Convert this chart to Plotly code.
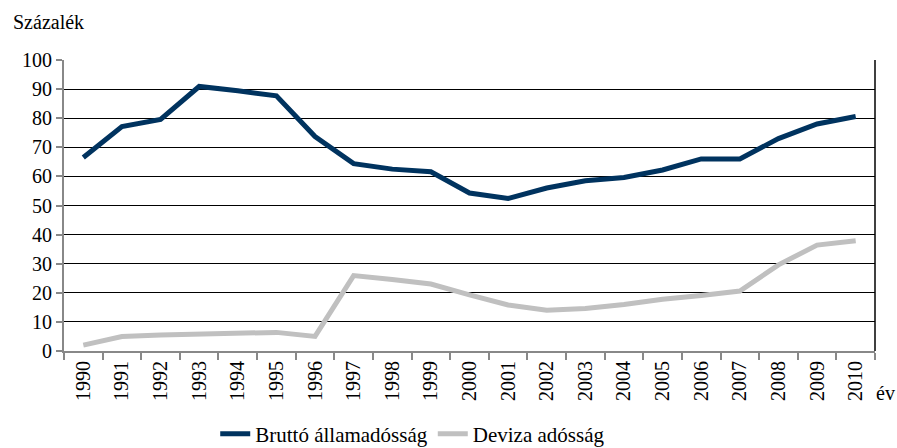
import plotly.graph_objects as go

years = [str(y) for y in range(1990, 2011)]
brutto = [66.5, 77.1, 79.6, 90.9, 89.4, 87.7, 73.7, 64.4, 62.5, 61.6, 54.3, 52.4,
          56.0, 58.5, 59.6, 62.2, 66.0, 66.0, 73.0, 78.0, 80.6]
deviza = [2.0, 5.0, 5.5, 5.9, 6.4, 6.4, 5.0, 25.9, 24.6, 23.0, 19.3, 15.8,
          14.0, 14.6, 16.0, 17.8, 19.1, 20.6, 29.6, 36.4, 37.9]
yticks = list(range(0, 101, 10))

FONT = "Liberation Serif"
F20 = dict(family=FONT, size=20, color="black")
F21 = dict(family=FONT, size=21, color="black")

fig = go.Figure()
fig.add_trace(go.Scatter(x=years, y=brutto, mode="lines", name="Bruttó államadósság",
                         line=dict(color="#00335F", width=5)))
fig.add_trace(go.Scatter(x=years, y=deviza, mode="lines", name="Deviza adósság",
                         line=dict(color="#C0C0C0", width=5)))

fig.update_layout(
    width=897, height=448,
    margin=dict(l=64, r=22, t=60, b=97, autoexpand=False),
    paper_bgcolor="white", plot_bgcolor="white",
    font=F20,
    showlegend=True,
    legend=dict(orientation="h", x=0.43, xanchor="center", yref="container",
                y=0.031, yanchor="middle", font=F21, tracegroupgap=0),
    xaxis=dict(type="category", range=[-0.5, 20.5], tickson="boundaries",
               ticks="outside", ticklen=7, automargin=False,
               tickcolor="#888888", tickwidth=2, showline=True, linecolor="#888888",
               linewidth=2, tickangle=-90, showgrid=False, zeroline=False,
               tickfont=F20),
    yaxis=dict(range=[0, 100], tickvals=yticks, ticks="outside", ticklen=6,
               automargin=False,
               tickcolor="#888888", tickwidth=2, showline=True, linecolor="#888888",
               linewidth=2, showgrid=True, gridcolor="#000000", gridwidth=1,
               zeroline=False, tickfont=F20),
    shapes=[dict(type="line", xref="paper", yref="paper", x0=1, x1=1, y0=0, y1=1,
                 line=dict(color="black", width=1.5))],
    annotations=[
        dict(text="Százalék", xref="paper", yref="paper", x=-0.065, y=1.13,
             xanchor="left", yanchor="middle", showarrow=False, font=F20),
        dict(text="év", xref="paper", yref="paper", x=1.027, y=-0.145,
             xanchor="right", yanchor="middle", showarrow=False, font=F20),
    ],
)

fig.write_html("out.html", config={"displayModeBar": False},
               post_script="document.body.style.margin='0';")
